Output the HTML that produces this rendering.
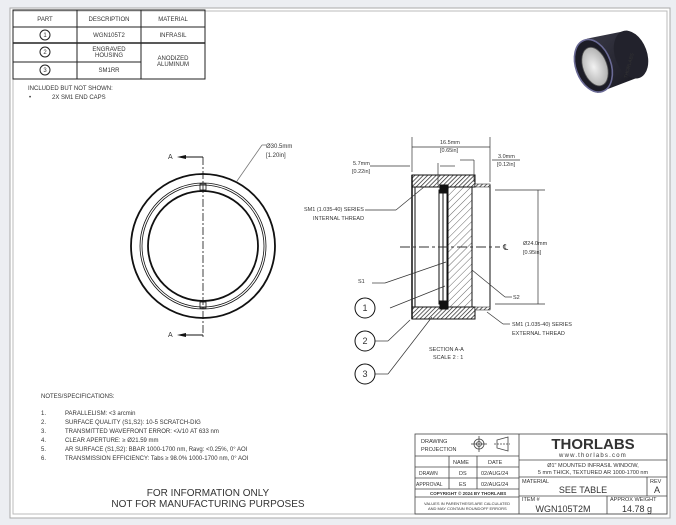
<!DOCTYPE html>
<html><head><style>
body{margin:0;background:#eceef2;width:676px;height:525px;overflow:hidden}
svg{display:block}
text{font-family:"Liberation Sans",sans-serif;fill:#333}
</style></head><body>
<svg width="676" height="525" viewBox="0 0 676 525" xmlns="http://www.w3.org/2000/svg">
<defs>
<pattern id="h1" width="3" height="3" patternUnits="userSpaceOnUse" patternTransform="rotate(45)"><rect width="3" height="3" fill="#fff"/><line x1="0" y1="0" x2="0" y2="3" stroke="#222" stroke-width="1.4"/></pattern>
<pattern id="h2" width="5" height="5" patternUnits="userSpaceOnUse" patternTransform="rotate(45)"><rect width="5" height="5" fill="#fff"/><line x1="0" y1="0" x2="0" y2="5" stroke="#444" stroke-width="0.8"/></pattern>
<radialGradient id="lg" cx="0.45" cy="0.5" r="0.6"><stop offset="0" stop-color="#f2f2f2"/><stop offset="1" stop-color="#aaa"/></radialGradient>
<linearGradient id="bd" x1="0" y1="0" x2="1" y2="1"><stop offset="0" stop-color="#3a3a48"/><stop offset="1" stop-color="#15151c"/></linearGradient>
</defs>
<rect x="10" y="8" width="660" height="510" fill="#fff" stroke="#aaa"/>
<rect x="13" y="11" width="654" height="503" fill="none" stroke="#bbb"/>
<!-- parts table -->
<g stroke="#222" stroke-width="1" fill="none">
<rect x="13" y="10" width="192" height="69"/>
<line x1="77" y1="10" x2="77" y2="79"/><line x1="141" y1="10" x2="141" y2="79"/>
<line x1="13" y1="27" x2="205" y2="27"/><line x1="13" y1="43" x2="205" y2="43" stroke-width="1.5"/>
<line x1="13" y1="62" x2="141" y2="62"/>
<circle cx="45" cy="35" r="5"/><circle cx="45" cy="52" r="5"/><circle cx="45" cy="70" r="5"/>
</g>
<g font-size="6" text-anchor="middle">
<text x="45" y="21">PART</text><text x="109" y="21">DESCRIPTION</text><text x="173" y="21">MATERIAL</text>
<text x="45" y="37">1</text><text x="45" y="54">2</text><text x="45" y="72">3</text>
<text x="109" y="37">WGN105T2</text><text x="173" y="37">INFRASIL</text>
<text x="109" y="51">ENGRAVED</text><text x="109" y="57">HOUSING</text>
<text x="109" y="72">SM1RR</text>
<text x="173" y="60">ANODIZED</text><text x="173" y="66">ALUMINUM</text>
</g>
<text x="28" y="90" font-size="6">INCLUDED BUT NOT SHOWN:</text>
<text x="29" y="99" font-size="6">•</text><text x="52" y="99" font-size="6">2X SM1 END CAPS</text>
<!-- photo -->
<g transform="translate(575,61) scale(0.8) translate(-575,-58)">
<path d="M590 30 L640 20 A22 32 -20 0 1 650 80 L603 98 Z" fill="url(#bd)"/>
<ellipse cx="645" cy="50" rx="20" ry="31" transform="rotate(-20 645 50)" fill="#22222c"/>
<ellipse cx="598" cy="64" rx="22" ry="34" transform="rotate(-20 598 64)" fill="#1c1c26" stroke="#6a6a95" stroke-width="2"/>
<ellipse cx="600" cy="65" rx="15" ry="25" transform="rotate(-20 600 65)" fill="url(#lg)" stroke="#555" stroke-width="1"/>
<text x="640" y="80" font-size="6" fill="#bbb" transform="rotate(-75 640 80)">THORLABS</text>
</g>
<!-- front view -->
<g fill="none" stroke="#111">
<circle cx="203" cy="246" r="72" stroke-width="1.8"/>
<circle cx="203" cy="246" r="63" stroke-width="0.8"/>
<circle cx="203" cy="246" r="61" stroke-width="0.8"/>
<circle cx="203" cy="246" r="55" stroke-width="1.8"/>
<line x1="203" y1="157" x2="203" y2="337" stroke-width="0.8" stroke-dasharray="8 2 2 2"/>
<line x1="203" y1="157" x2="185" y2="157" stroke-width="1"/><line x1="203" y1="335" x2="185" y2="335" stroke-width="1"/>
<rect x="200" y="184" width="6" height="6" stroke-width="0.8"/><rect x="200" y="302" width="6" height="6" stroke-width="0.8"/>
<line x1="237" y1="181" x2="262" y2="145" stroke="#777" stroke-width="0.8"/><line x1="262" y1="145" x2="266" y2="145" stroke="#777" stroke-width="0.8"/>
</g>
<polygon points="177,157 186,155 186,159" fill="#111"/><polygon points="177,335 186,333 186,337" fill="#111"/>
<text x="168" y="159" font-size="7">A</text><text x="168" y="337" font-size="7">A</text>
<text x="266" y="148" font-size="6" fill="#666">Ø30.5mm</text><text x="266" y="157" font-size="6" fill="#666">[1.20in]</text>
<!-- section view -->
<g stroke="#111" stroke-width="1">
<rect x="412" y="175" width="63" height="12" fill="url(#h1)"/>
<rect x="412" y="307" width="63" height="12" fill="url(#h1)"/>
<rect x="448" y="187" width="24" height="120" fill="url(#h2)"/>
<path d="M475 185 L490 185 L490 309 L475 309" fill="none"/>
<rect x="475" y="184" width="15" height="3" fill="url(#h1)" stroke-width="0.5"/>
<rect x="475" y="307" width="15" height="3" fill="url(#h1)" stroke-width="0.5"/>
<line x1="412" y1="175" x2="412" y2="319" stroke-width="1.5"/>
<line x1="415" y1="187" x2="415" y2="307"/>
<rect x="439" y="190" width="8" height="114" fill="#fff"/>
<line x1="443" y1="190" x2="443" y2="304"/>
<rect x="440" y="185" width="8" height="8" fill="#111"/><rect x="440" y="301" width="8" height="8" fill="#111"/>
</g>
<g stroke="#333" stroke-width="0.7" fill="none">
<line x1="412" y1="137" x2="412" y2="172"/><line x1="490" y1="137" x2="490" y2="182"/>
<line x1="412" y1="147" x2="490" y2="147"/>
<line x1="438" y1="163" x2="438" y2="185"/><line x1="440" y1="166" x2="455" y2="166"/><line x1="370" y1="166" x2="410" y2="166"/>
<line x1="474" y1="160" x2="474" y2="182"/><line x1="460" y1="160" x2="474" y2="160"/><line x1="492" y1="160" x2="520" y2="160"/>
<line x1="495" y1="190" x2="545" y2="190"/><line x1="495" y1="304" x2="545" y2="304"/>
<line x1="538" y1="190" x2="538" y2="304"/>
<line x1="400" y1="247" x2="500" y2="247" stroke-dasharray="10 3 3 3" stroke-width="0.9"/>
<line x1="365" y1="210" x2="396" y2="210"/><line x1="396" y1="210" x2="424" y2="187"/>
<line x1="372" y1="283" x2="385" y2="283"/><line x1="385" y1="283" x2="446" y2="262"/>
<line x1="390" y1="308" x2="445" y2="286"/>
<line x1="373" y1="341" x2="388" y2="341"/><line x1="388" y1="341" x2="410" y2="320"/>
<line x1="374" y1="374" x2="388" y2="374"/><line x1="388" y1="374" x2="432" y2="317"/>
<line x1="472" y1="270" x2="505" y2="297"/><line x1="505" y1="297" x2="512" y2="297"/>
<line x1="487" y1="312" x2="503" y2="324"/><line x1="503" y1="324" x2="510" y2="324"/>
</g>
<circle cx="365" cy="308" r="10" fill="#fff" stroke="#111"/><circle cx="365" cy="341" r="10" fill="#fff" stroke="#111"/><circle cx="365" cy="374" r="10" fill="#fff" stroke="#111"/>
<g font-size="9" text-anchor="middle" fill="#111"><text x="365" y="311">1</text><text x="365" y="344">2</text><text x="365" y="377">3</text></g>
<g font-size="5.5" fill="#444">
<text x="440" y="144">16.5mm</text><text x="440" y="152">[0.65in]</text>
<text x="353" y="165">5.7mm</text><text x="352" y="173">[0.22in]</text>
<text x="498" y="158">3.0mm</text><text x="497" y="166">[0.12in]</text>
<text x="523" y="245">Ø24.0mm</text><text x="523" y="254">[0.95in]</text>
<text x="304" y="211">SM1 (1.035-40) SERIES</text><text x="313" y="220">INTERNAL THREAD</text>
<text x="358" y="283">S1</text><text x="513" y="299">S2</text>
<text x="512" y="326">SM1 (1.035-40) SERIES</text><text x="512" y="335">EXTERNAL THREAD</text>
<text x="429" y="351">SECTION A-A</text><text x="433" y="359">SCALE 2 : 1</text>
<text x="503" y="250" font-size="8">℄</text>
</g>
<!-- notes -->
<g font-size="6" fill="#444">
<text x="41" y="398">NOTES/SPECIFICATIONS:</text>
<text x="41" y="415">1.</text><text x="65" y="415">PARALLELISM: &lt;3 arcmin</text>
<text x="41" y="424">2.</text><text x="65" y="424">SURFACE QUALITY (S1,S2): 10-5 SCRATCH-DIG</text>
<text x="41" y="433">3.</text><text x="65" y="433">TRANSMITTED WAVEFRONT ERROR: &lt;λ/10 AT 633 nm</text>
<text x="41" y="442">4.</text><text x="65" y="442">CLEAR APERTURE: ≥ Ø21.59 mm</text>
<text x="41" y="451">5.</text><text x="65" y="451">AR SURFACE (S1,S2): BBAR 1000-1700 nm, Ravg: &lt;0.25%, 0° AOI</text>
<text x="41" y="460">6.</text><text x="65" y="460">TRANSMISSION EFFICIENCY: Tabs ≥ 98.0% 1000-1700 nm, 0° AOI</text>
</g>
<g font-size="10" text-anchor="middle" fill="#333"><text x="208" y="496">FOR INFORMATION ONLY</text><text x="208" y="507">NOT FOR MANUFACTURING PURPOSES</text></g>
<!-- title block -->
<g stroke="#444" stroke-width="0.8" fill="none">
<rect x="415" y="434" width="252" height="80"/>
<line x1="519" y1="434" x2="519" y2="514"/>
<line x1="415" y1="456" x2="519" y2="456"/>
<line x1="449" y1="456" x2="449" y2="489"/><line x1="477" y1="456" x2="477" y2="489"/>
<line x1="415" y1="467" x2="519" y2="467"/><line x1="415" y1="478" x2="519" y2="478"/><line x1="415" y1="489" x2="519" y2="489"/>
<line x1="415" y1="497" x2="519" y2="497"/>
<line x1="519" y1="460" x2="667" y2="460"/><line x1="519" y1="477" x2="667" y2="477"/>
<line x1="647" y1="477" x2="647" y2="496"/>
<line x1="519" y1="496" x2="667" y2="496"/><line x1="607" y1="496" x2="607" y2="514"/>
<circle cx="479" cy="444" r="5"/><circle cx="479" cy="444" r="2.5"/><line x1="471" y1="444" x2="487" y2="444"/><line x1="479" y1="436" x2="479" y2="452"/>
<path d="M497 440 L508 437 L508 451 L497 448 Z"/><line x1="494" y1="444" x2="510" y2="444" stroke-dasharray="2 1"/>
</g>
<g font-size="5.5" fill="#444">
<text x="421" y="443">DRAWING</text><text x="421" y="451">PROJECTION</text>
<text x="453" y="464">NAME</text><text x="488" y="464">DATE</text>
<text x="419" y="475" font-size="5">DRAWN</text><text x="459" y="475">DS</text><text x="481" y="475">02/AUG/24</text>
<text x="416" y="486" font-size="5">APPROVAL</text><text x="459" y="486">ES</text><text x="481" y="486">02/AUG/24</text>
<text x="430" y="495" font-size="4.5" font-weight="bold">COPYRIGHT © 2024 BY THORLABS</text>
<text x="424" y="505" font-size="4">VALUES IN PARENTHESIS ARE CALCULATED</text><text x="428" y="510" font-size="4">AND MAY CONTAIN ROUNDOFF ERRORS</text>
<text x="522" y="483">MATERIAL</text><text x="650" y="483">REV</text>
<text x="522" y="501">ITEM #</text><text x="610" y="501">APPROX WEIGHT</text>
</g>
<text x="593" y="449" font-size="15" font-weight="bold" text-anchor="middle" fill="#111">THORLABS</text>
<text x="593" y="457" font-size="6" text-anchor="middle" fill="#444" letter-spacing="1.2">www.thorlabs.com</text>
<text x="593" y="467" font-size="5.5" text-anchor="middle" fill="#444">Ø1" MOUNTED INFRASIL WINDOW,</text>
<text x="593" y="474" font-size="5.5" text-anchor="middle" fill="#444">5 mm THICK, TEXTURED AR 1000-1700 nm</text>
<text x="583" y="493" font-size="9" text-anchor="middle">SEE TABLE</text>
<text x="657" y="493" font-size="9" text-anchor="middle">A</text>
<text x="563" y="512" font-size="9" text-anchor="middle">WGN105T2M</text>
<text x="637" y="512" font-size="9" text-anchor="middle">14.78 g</text>
</svg>
</body></html>
